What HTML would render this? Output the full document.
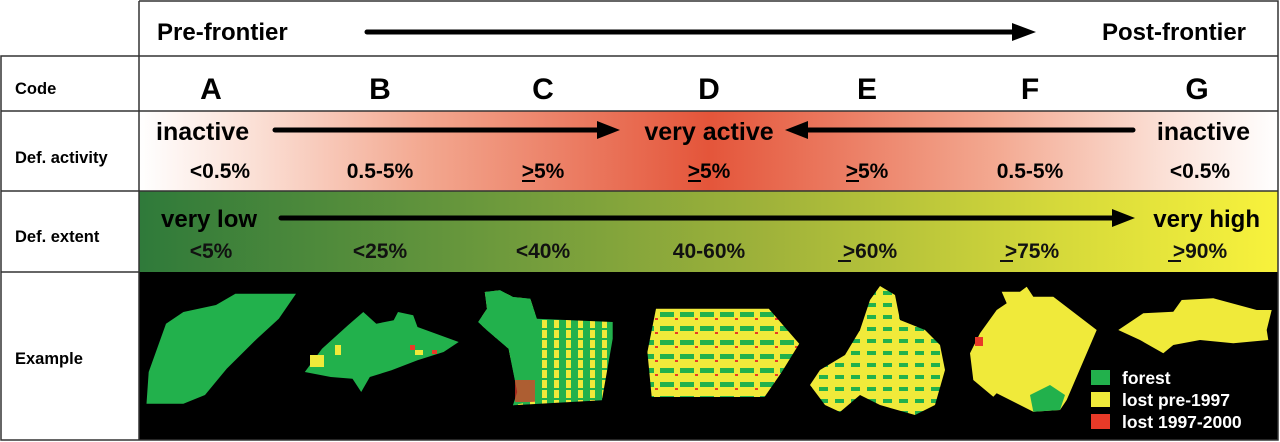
<!DOCTYPE html>
<html><head><meta charset="utf-8"><style>
html,body{margin:0;padding:0;background:#fff;}
svg{display:block;font-family:"Liberation Sans",Arial,sans-serif;font-weight:bold;}
</style></head><body>
<svg width="1280" height="442" viewBox="0 0 1280 442">
<defs>
<linearGradient id="act" x1="139" x2="1278" gradientUnits="userSpaceOnUse">
<stop offset="0" stop-color="#fff"/>
<stop offset="0.1" stop-color="#fbe0d6"/>
<stop offset="0.25" stop-color="#f3a890"/>
<stop offset="0.5" stop-color="#e4553a"/>
<stop offset="0.75" stop-color="#f3a890"/>
<stop offset="0.9" stop-color="#fbe0d6"/>
<stop offset="1" stop-color="#fff"/>
</linearGradient>
<linearGradient id="ext" x1="139" x2="1278" gradientUnits="userSpaceOnUse">
<stop offset="0" stop-color="#2f7a3a"/>
<stop offset="0.3" stop-color="#6a983c"/>
<stop offset="0.55" stop-color="#9fb23a"/>
<stop offset="0.8" stop-color="#d4d83a"/>
<stop offset="1" stop-color="#f8f23c"/>
</linearGradient>
<pattern id="dmix" width="20" height="14" patternUnits="userSpaceOnUse">
<rect width="20" height="14" fill="#f0ea3a"/>
<rect x="0" y="4" width="14" height="5" fill="#22b14c"/>
<rect x="15" y="10" width="3" height="2" fill="#e83a28"/>
</pattern>
<pattern id="cmix" width="12" height="10" patternUnits="userSpaceOnUse">
<rect width="12" height="10" fill="#22b14c"/>
<rect x="2" y="0" width="5" height="8" fill="#f0ea3a"/>
</pattern>
<pattern id="emix" width="16" height="12" patternUnits="userSpaceOnUse">
<rect width="16" height="12" fill="#f0ea3a"/>
<rect x="3" y="3" width="9" height="4" fill="#22b14c"/>
</pattern>
</defs>
<rect x="139" y="111" width="1139" height="80" fill="url(#act)"/>
<rect x="139" y="191" width="1139" height="81" fill="url(#ext)"/>
<rect x="139" y="272" width="1139" height="168" fill="#000"/>
<g stroke="#333" stroke-width="1.5" fill="none">
<path d="M139,1 H1278 V440 H1 V56 H1278"/>
<path d="M139,1 V440"/>
<path d="M1,111 H1278 M1,191 H1278 M1,272 H139"/>
</g>
<text x="157" y="40" font-size="24">Pre-frontier</text>
<text x="1246" y="40" font-size="24" text-anchor="end">Post-frontier</text>
<line x1="367" y1="32" x2="1015" y2="32" stroke="#000" stroke-width="5" stroke-linecap="round"/>
<polygon points="1012,23 1036,32 1012,41" fill="#000"/>
<g font-size="16.5">
<text x="15" y="94">Code</text>
<text x="15" y="163">Def. activity</text>
<text x="15" y="242">Def. extent</text>
<text x="15" y="364">Example</text>
</g>
<g font-size="30" text-anchor="middle">
<text x="211" y="99">A</text><text x="380" y="99">B</text><text x="543" y="99">C</text>
<text x="709" y="99">D</text><text x="867" y="99">E</text><text x="1030" y="99">F</text><text x="1197" y="99">G</text>
</g>
<g font-size="25">
<text x="156" y="140">inactive</text>
<text x="709" y="140" text-anchor="middle">very active</text>
<text x="1250" y="140" text-anchor="end">inactive</text>
</g>
<line x1="275" y1="130" x2="600" y2="130" stroke="#000" stroke-width="5" stroke-linecap="round"/>
<polygon points="597,121 620,130 597,139" fill="#000"/>
<line x1="805" y1="130" x2="1133" y2="130" stroke="#000" stroke-width="5" stroke-linecap="round"/>
<polygon points="808,121 785,130 808,139" fill="#000"/>
<g font-size="21" text-anchor="middle">
<text x="220" y="178">&lt;0.5%</text>
<text x="380" y="178">0.5-5%</text>
<text x="543" y="178">&gt;5%</text>
<text x="709" y="178">&gt;5%</text>
<text x="867" y="178">&gt;5%</text>
<text x="1030" y="178">0.5-5%</text>
<text x="1200" y="178">&lt;0.5%</text>
</g>
<g stroke="#000" stroke-width="2">
<line x1="522" y1="181" x2="535" y2="181"/>
<line x1="688" y1="181" x2="701" y2="181"/>
<line x1="846" y1="181" x2="859" y2="181"/>
</g>
<g font-size="24">
<text x="161" y="227">very low</text>
<text x="1260" y="227" text-anchor="end">very high</text>
</g>
<line x1="281" y1="218" x2="1115" y2="218" stroke="#000" stroke-width="5" stroke-linecap="round"/>
<polygon points="1112,209 1135,218 1112,227" fill="#000"/>
<g font-size="21" text-anchor="middle" fill="#111">
<text x="211" y="258">&lt;5%</text>
<text x="380" y="258">&lt;25%</text>
<text x="543" y="258">&lt;40%</text>
<text x="709" y="258">40-60%</text>
<text x="870" y="258">&gt;60%</text>
<text x="1032" y="258">&gt;75%</text>
<text x="1200" y="258">&gt;90%</text>
</g>
<g stroke="#111" stroke-width="2">
<line x1="838" y1="261" x2="851" y2="261"/>
<line x1="1000" y1="261" x2="1013" y2="261"/>
<line x1="1168" y1="261" x2="1181" y2="261"/>
</g>
<polygon fill="#22b14c" points="146.5,403.7 148.7,372 166,323.7 183.4,312 216,305 235.4,293.7 296,293.7 278.8,318.7 257,338.7 226.7,368.7 205,395 183.4,403.7"/>
<polygon fill="#22b14c" points="304.8,372 322,348.7 348,325.3 363.3,312 376.3,323.7 393.7,320.3 398,312 413.2,315.3 417.5,327 458.7,342 443.6,352 417.5,360.3 391.5,370.3 369.8,377 361.2,392 352.5,378.7 330.8,377"/>
<g fill="#f0ea3a"><rect x="310" y="355" width="14" height="12"/><rect x="335" y="345" width="6" height="10"/><rect x="415" y="350" width="8" height="5"/></g>
<g fill="#e83a28"><rect x="410" y="345" width="5" height="5"/><rect x="432" y="350" width="5" height="4"/></g>
<polygon fill="url(#cmix)" points="484.8,292 500,290.3 513,297 530.3,298.7 536.8,318.7 612.7,322 612.7,338.7 601.9,400.3 513,405.3 517.3,392 508.6,348.7 487,330.3 478.2,322 487,308.7"/>
<polygon fill="#22b14c" points="484.8,292 500,290.3 513,297 530.3,298.7 536.8,318.7 540,330 540,400 513,405.3 517.3,392 508.6,348.7 487,330.3 478.2,322 487,308.7"/>
<rect x="515" y="380" width="20" height="22" fill="#e83a28" opacity="0.7"/>
<polygon fill="url(#dmix)" points="656,308.7 768.8,308.7 799.2,343.7 781.8,372 764.5,397 651.7,397 647.4,352"/>
<polygon fill="url(#emix)" points="870,300 880,286 895,295 900,320 925,330 940,345 945,370 935,405 915,415 880,405 860,395 840,412 825,405 810,385 820,370 845,355 860,330"/>
<polygon fill="#f0ea3a" points="1001.7,291.7 1020,291.7 1026.7,286.7 1033.3,296.7 1053.3,296.7 1096.7,330 1066.7,400 1060,410 1033.3,411.7 996.7,393.3 993.3,396.7 973.3,380 970,353.3 980,333.3 996.7,310 1006.7,303.3"/>
<polygon fill="#22b14c" points="1030,395 1050,385 1065,395 1060,410 1033.3,411.7"/>
<rect x="975" y="337" width="8" height="9" fill="#e83a28"/>
<polygon fill="#f0ea3a" points="1118.3,330 1143.3,313.3 1173.3,311.7 1181.7,300 1213.3,298.3 1256.7,310 1271.7,310 1266.7,330 1268.3,340 1233.3,343.3 1200,340 1173.3,345 1163.3,353.3 1140,340"/>
<rect x="1091" y="370" width="19" height="15" fill="#22b14c"/>
<rect x="1091" y="392" width="19" height="15" fill="#f0ea3a"/>
<rect x="1091" y="414" width="19" height="15" fill="#e83a28"/>
<g font-size="17.5" fill="#fff">
<text x="1122" y="384">forest</text>
<text x="1122" y="406">lost pre-1997</text>
<text x="1122" y="428">lost 1997-2000</text>
</g>
</svg>
</body></html>
